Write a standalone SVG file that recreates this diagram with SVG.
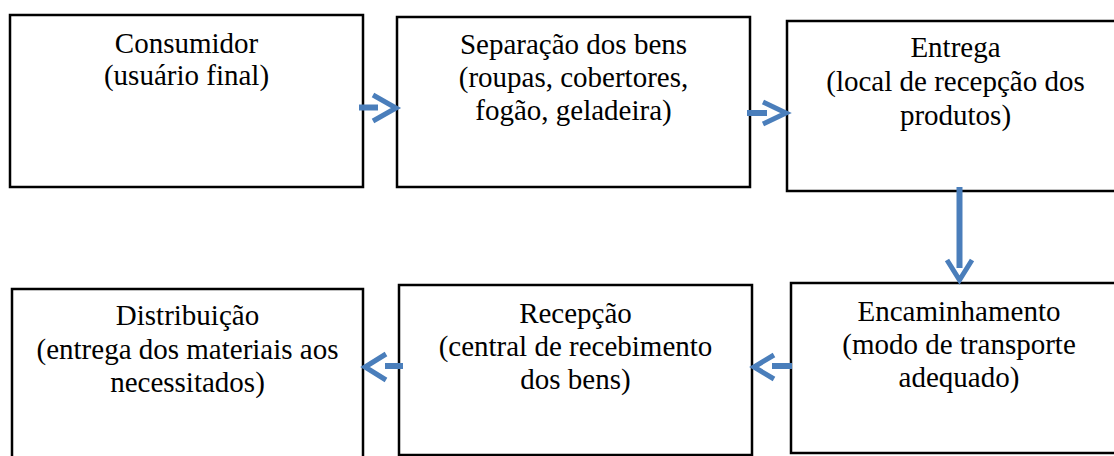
<svg xmlns="http://www.w3.org/2000/svg" width="1114" height="456" viewBox="0 0 1114 456">
<style>
.box{fill:#fff;stroke:#000;stroke-width:2.5}
.t{font-family:"Liberation Serif","Times New Roman",serif;font-size:29px;fill:#000;text-anchor:middle}
.sh{stroke:#4a7ebb;stroke-width:6;fill:none}
.hd{stroke:#4a7ebb;stroke-width:5;fill:none;stroke-linejoin:miter}
</style>
<rect width="1114" height="456" fill="#fff"/>
<g id="consumidor">
<rect class="box" x="10" y="15" width="353" height="172"/>
<text class="t" x="186.5" y="53">Consumidor</text>
<text class="t" x="186.5" y="85">(usuário final)</text>
</g>
<g id="separacao">
<rect class="box" x="397" y="17" width="353" height="170"/>
<text class="t" x="573.5" y="54">Separação dos bens</text>
<text class="t" x="573.5" y="87">(roupas, cobertores,</text>
<text class="t" x="573.5" y="120">fogão, geladeira)</text>
</g>
<g id="entrega">
<rect class="box" x="787" y="21" width="340" height="170"/>
<text class="t" x="955.5" y="57">Entrega</text>
<text class="t" x="955.5" y="91">(local de recepção dos</text>
<text class="t" x="955.5" y="125">produtos)</text>
</g>
<g id="encaminhamento">
<rect class="box" x="791" y="283" width="340" height="170"/>
<text class="t" x="959" y="321">Encaminhamento</text>
<text class="t" x="959" y="354">(modo de transporte</text>
<text class="t" x="959" y="387">adequado)</text>
</g>
<g id="recepcao">
<rect class="box" x="399" y="285" width="353" height="170"/>
<text class="t" x="575.5" y="323">Recepção</text>
<text class="t" x="575.5" y="356">(central de recebimento</text>
<text class="t" x="575.5" y="389">dos bens)</text>
</g>
<g id="distribuicao">
<rect class="box" x="12" y="289" width="351" height="180"/>
<text class="t" x="187.5" y="325">Distribuição</text>
<text class="t" x="187.5" y="359">(entrega dos materiais aos</text>
<text class="t" x="187.5" y="392">necessitados)</text>
</g>
<g id="connectors">
<line class="sh" x1="359" y1="107.5" x2="378" y2="107.5"/>
<polyline class="hd" points="373,95 396,108 373,121"/>
<line class="sh" x1="747" y1="113" x2="767" y2="113"/>
<polyline class="hd" points="763,102 786,113 763,124"/>
<line class="sh" x1="959.5" y1="187" x2="959.5" y2="268"/>
<polyline class="hd" points="947,260 959.5,280 972,260"/>
<line class="sh" x1="772" y1="366" x2="792" y2="366"/>
<polyline class="hd" points="774,355 754,367 774,379"/>
<line class="sh" x1="385" y1="366" x2="403" y2="366"/>
<polyline class="hd" points="386,354 365,367 386,380"/>
</g>
</svg>
